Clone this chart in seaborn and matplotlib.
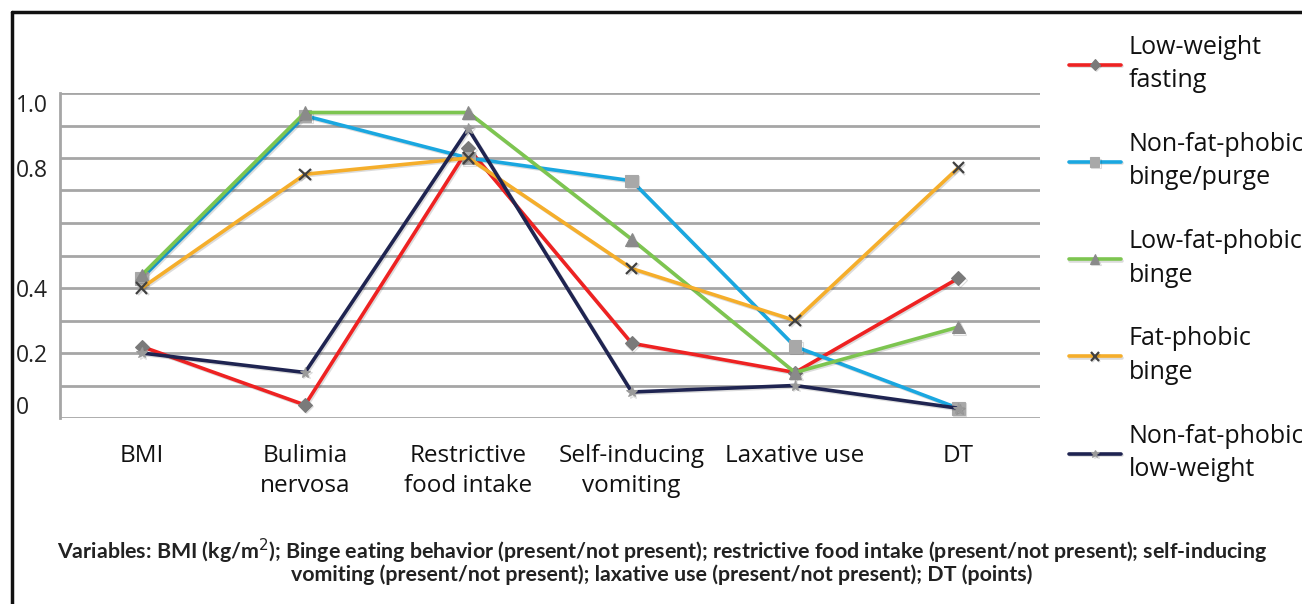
import numpy as np
import pandas as pd
import matplotlib
matplotlib.use("Agg")
import matplotlib.pyplot as plt
import seaborn as sns
from matplotlib.lines import Line2D
import matplotlib.patheffects as pe

categories = ["BMI", "Bulimia\nnervosa", "Restrictive\nfood intake",
              "Self-inducing\nvomiting", "Laxative use", "DT"]
series_names = ["Low-weight\nfasting", "Non-fat-phobic\nbinge/purge",
                "Low-fat-phobic\nbinge", "Fat-phobic\nbinge",
                "Non-fat-phobic\nlow-weight"]
low_weight_fasting = [0.22, 0.04, 0.83, 0.23, 0.14, 0.43]
non_fat_phobic_binge_purge = [0.43, 0.93, 0.80, 0.73, 0.22, 0.03]
low_fat_phobic_binge = [0.44, 0.94, 0.94, 0.55, 0.14, 0.28]
fat_phobic_binge = [0.40, 0.75, 0.80, 0.46, 0.30, 0.77]
non_fat_phobic_low_weight = [0.20, 0.14, 0.89, 0.08, 0.10, 0.03]
ytick_labels = ["0", "0.2", "0.4", "0.8", "1.0"]
ytick_pos = [0.04, 0.20, 0.40, 0.77, 0.97]

values = [low_weight_fasting, non_fat_phobic_binge_purge, low_fat_phobic_binge,
          fat_phobic_binge, non_fat_phobic_low_weight]
colors = ["#ee2222", "#1aa7e0", "#7dc550", "#f5ae2b", "#1f2451"]
markers = ["D", "s", "^", "x", "*"]
msizes = [7, 9, 9, 8, 8]
mcolors = ["#7a7a7a", "#a8a8a8", "#8a8a8a", "#404040", "#9a9a9a"]

sns.set_theme(style="white")
plt.rcParams["font.family"] = ["Open Sans", "DejaVu Sans"]

fig = plt.figure(figsize=(13.02, 6.04), dpi=100)
ax = fig.add_axes([60/1302, 1-418/604, 980/1302, 325/604])

for name, vals, c, m, ms, mc in zip(series_names, values, colors, markers, msizes, mcolors):
    df = pd.DataFrame({"cat": categories, "val": vals})
    sns.lineplot(data=df, x="cat", y="val", ax=ax, color=c, lw=2.6, sort=False,
                 marker=m, markersize=ms, markerfacecolor=mc, markeredgecolor=mc,
                 markeredgewidth=1.6 if m in ("x",) else 0.8, label=name,
                 path_effects=[pe.SimpleLineShadow(offset=(1, -1), alpha=0.15), pe.Normal()])

ax.set_xlim(-0.5, 5.5)
ax.set_ylim(0, 1.0)
for g in np.arange(0, 1.01, 0.1):
    ax.axhline(g, color="#a6a6a6", lw=2.0, zorder=0)
ax.set_yticks(ytick_pos)
ax.set_yticklabels(ytick_labels, fontsize=16.5, color="#222222")
ax.tick_params(axis="y", length=0, pad=32)
for lab in ax.get_yticklabels():
    lab.set_horizontalalignment("left")
ax.set_xticks(range(len(categories)))
ax.set_xticklabels(categories, fontsize=17.5, color="#111111", linespacing=1.33)
ax.tick_params(axis="x", length=0, pad=19)
ax.set_xlabel("")
ax.set_ylabel("")
for s in ["top", "right", "bottom"]:
    ax.spines[s].set_visible(False)
ax.spines["left"].set_color("#a6a6a6")
ax.spines["left"].set_linewidth(2.0)

leg = ax.legend(loc="upper left", bbox_to_anchor=(1046/1302, 1-12/604),
                bbox_transform=fig.transFigure, frameon=False, fontsize=18,
                handlelength=2.1, handletextpad=0.3, labelspacing=1.55)
for t in leg.get_texts():
    t.set_color("#111111")
    t.set_linespacing(1.45)
for h in leg.legend_handles:
    h.set_linewidth(2.6)
    h.set_markersize(h.get_markersize() * 0.75)

footer = (r"Variables: BMI (kg/m$^{2}$); Binge eating behavior (present/not present); "
          r"restrictive food intake (present/not present); self-inducing" "\n"
          "vomiting (present/not present); laxative use (present/not present); DT (points)")
fig.text(662/1302, 1-561/604, footer, ha="center", va="center", ma="center",
         fontsize=15.4, fontweight="bold", color="#222222", linespacing=0.9,
         family=["Lato", "DejaVu Sans"])

fig.add_artist(Line2D([11.5/1302, 11.5/1302], [0, 1-12/604], transform=fig.transFigure, color="#111111", lw=2.5))
fig.add_artist(Line2D([11.5/1302, 1], [1-12/604, 1-12/604], transform=fig.transFigure, color="#111111", lw=2.5))

fig.savefig("out.png", dpi=100)
